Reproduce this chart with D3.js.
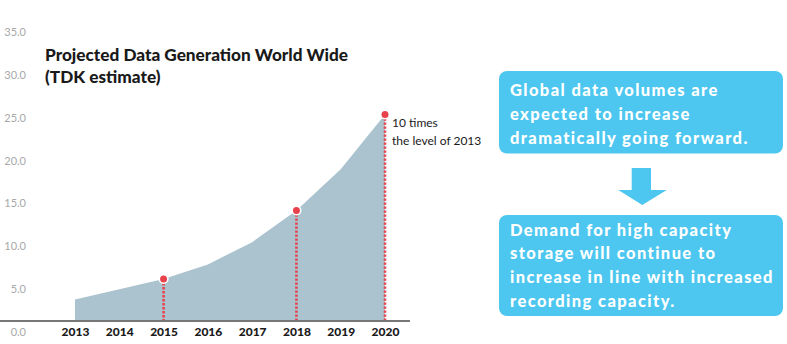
<!DOCTYPE html>
<html>
<head>
<meta charset="utf-8">
<script src="https://cdn.jsdelivr.net/npm/d3@7"></script>
<style>
  html, body { margin: 0; padding: 0; background: #fff; }
  svg { display: block; }
</style>
</head>
<body>
<svg id="chart" width="787" height="344"></svg>
<script>
// ---- data ----
const years = [2013, 2014, 2015, 2016, 2017, 2018, 2019, 2020];
const values = [2.5, 3.7, 4.9, 6.6, 9.2, 12.9, 17.7, 24.1];
const highlightYears = [2015, 2018, 2020];
const yTicks = [0, 5, 10, 15, 20, 25, 30, 35];
const titleLines = ["Projected Data Generation World Wide", "(TDK estimate)"];
const noteLines = ["10 times", "the level of 2013"];
const box1Lines = ["Global data volumes are", "expected to increase", "dramatically going forward."];
const box2Lines = ["Demand for high capacity", "storage will continue to", "increase in line with increased", "recording capacity."];

const FONT = "Lato, 'Open Sans', sans-serif";
const svg = d3.select("#chart");

const x = d3.scalePoint().domain(years).range([75, 385]);
const y = d3.scaleLinear().domain([0, 35]).range([321, 21]);

const data = years.map((yr, i) => ({ year: yr, value: values[i] }));

// area
const area = d3.area().x(d => x(d.year)).y0(y(0)).y1(d => y(d.value));
svg.append("path").datum(data).attr("d", area).attr("fill", "#aac3cf");

// y axis labels
const yAxis = svg.append("g").attr("transform", "translate(29,0)")
  .call(d3.axisLeft(y).tickValues(yTicks).tickSize(0).tickPadding(3).tickFormat(d3.format(".1f")));
yAxis.select(".domain").remove();
yAxis.selectAll("text").attr("transform", "translate(0,11)")
  .style("font-family", FONT).style("font-size", "11px").attr("fill", "#a8a8a8");

// baseline
svg.append("line").attr("x1", 0).attr("x2", 410).attr("y1", y(0)).attr("y2", y(0))
  .attr("stroke", "#777").attr("stroke-width", 2);

// x axis labels
const xAxis = svg.append("g").attr("transform", `translate(0,${y(0)})`)
  .call(d3.axisBottom(x).tickSize(0).tickPadding(6));
xAxis.select(".domain").remove();
xAxis.selectAll("text").style("font-family", FONT).style("font-size", "12px")
  .style("font-weight", "900").attr("fill", "#1a1a1a");

// highlighted points with dotted drop lines
const hl = data.filter(d => highlightYears.includes(d.year));
svg.selectAll(".drop").data(hl).join("line")
  .attr("x1", d => x(d.year)).attr("x2", d => x(d.year))
  .attr("y1", d => y(d.value)).attr("y2", y(0) - 1)
  .attr("stroke", "#e8424c").attr("stroke-width", 2.6).attr("stroke-dasharray", "2.4,1.6");
svg.selectAll(".pt").data(hl).join("circle")
  .attr("cx", d => x(d.year)).attr("cy", d => y(d.value)).attr("r", 4.3)
  .attr("fill", "#e8424c").attr("stroke", "#fff").attr("stroke-width", 1.6);

// note
const last = data[data.length - 1];
svg.append("g").selectAll("text").data(noteLines).join("text")
  .attr("x", x(last.year) + 7).attr("y", (d, i) => y(last.value) + 13 + i * 17.5)
  .text(d => d).style("font-family", FONT).style("font-size", "12px").attr("fill", "#1a1a1a");

// title
svg.append("g").selectAll("text").data(titleLines).join("text")
  .attr("x", 45).attr("y", (d, i) => 61 + i * 22)
  .text(d => d).style("font-family", FONT).style("font-size", "17.2px")
  .style("font-weight", "900").attr("fill", "#1a1a1a");

// right side boxes
const BLUE = "#4dc7ef";
function box(top, h, lines, base, step) {
  svg.append("rect").attr("x", 499).attr("y", top).attr("width", 284).attr("height", h)
    .attr("rx", 8).attr("fill", BLUE);
  svg.append("g").selectAll("text").data(lines).join("text")
    .attr("x", 510).attr("y", (d, i) => base + i * step).text(d => d)
    .style("font-family", FONT).style("font-size", "16.5px").style("font-weight", "900")
    .style("letter-spacing", "1.4px").attr("fill", "#fff");
}
box(71, 82.5, box1Lines, 95.5, 24);
box(215, 101, box2Lines, 235.5, 23.8);

// arrow
const arrow = d3.path();
arrow.moveTo(631.7, 168); arrow.lineTo(651, 168); arrow.lineTo(651, 190);
arrow.lineTo(666.7, 190); arrow.lineTo(642.3, 205); arrow.lineTo(618.3, 190);
arrow.lineTo(631.7, 190); arrow.closePath();
svg.append("path").attr("d", arrow.toString()).attr("fill", BLUE);
</script>
</body>
</html>
